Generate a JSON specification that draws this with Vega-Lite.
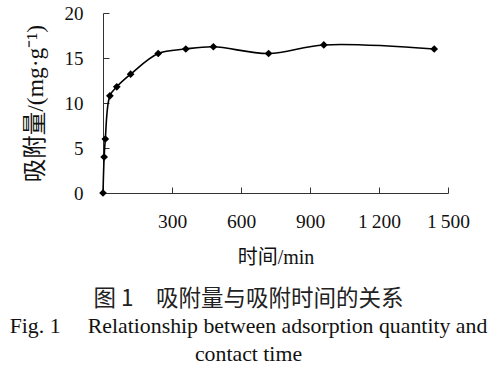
{
  "$schema": "https://vega.github.io/schema/vega-lite/v6.json",
  "width": 345,
  "height": 180,
  "autosize": "none",
  "padding": {"left": 103, "top": 13, "right": 52, "bottom": 176},
  "background": "white",
  "config": {"view": {"stroke": null}},
  "data": {"values": [
    {"t": 0, "q": 0},
    {"t": 5, "q": 4.0},
    {"t": 10, "q": 6.0},
    {"t": 30, "q": 10.8},
    {"t": 60, "q": 11.8},
    {"t": 120, "q": 13.2},
    {"t": 240, "q": 15.5},
    {"t": 360, "q": 16.0},
    {"t": 480, "q": 16.25},
    {"t": 720, "q": 15.5},
    {"t": 960, "q": 16.45},
    {"t": 1440, "q": 16.0}
  ]},
  "title": {
    "text": "图 1　吸附量与吸附时间的关系",
    "subtitle": ["Fig. 1\u00a0\u00a0\u00a0\u00a0\u00a0Relationship between adsorption quantity and", "contact time"],
    "orient": "bottom",
    "anchor": "middle",
    "dx": -27,
    "offset": 20,
    "font": "Noto Sans CJK SC",
    "fontSize": 22.5,
    "fontWeight": "normal",
    "color": "#222",
    "subtitleFont": "Liberation Serif",
    "subtitleFontSize": 21.8,
    "subtitleColor": "#111",
    "subtitlePadding": 6,
    "subtitleLineHeight": 28
  },
  "encoding": {
    "x": {"field": "t", "type": "quantitative",
      "scale": {"domain": [0, 1500], "nice": false},
      "axis": {"values": [300, 600, 900, 1200, 1500], "grid": false, "labelFlush": false, "labelOverlap": false,
        "tickSize": -6, "labelPadding": 25, "domainColor": "#333", "tickColor": "#333",
        "labelFont": "Liberation Serif", "labelFontSize": 19.5, "labelColor": "#111",
        "labelExpr": "datum.value >= 1000 ? '1\u2009' + substring(format(datum.value,'d'),1) : format(datum.value,'d')",
        "title": "时间/min", "titleFont": "Liberation Serif, Noto Sans CJK SC", "titleFontSize": 20,
        "titleFontWeight": "normal", "titleColor": "#111", "titlePadding": 17}},
    "y": {"field": "q", "type": "quantitative",
      "scale": {"domain": [0, 20], "nice": false},
      "axis": {"values": [0, 5, 10, 15, 20], "grid": false, "labelFlush": false,
        "tickSize": -6, "labelPadding": 26, "domainColor": "#333", "tickColor": "#333",
        "labelFont": "Liberation Serif", "labelFontSize": 19, "labelColor": "#111",
        "title": "吸附量/(mg·g⁻¹)", "titleFont": "Liberation Serif, Noto Sans CJK SC", "titleFontSize": 23.5,
        "titleFontWeight": "normal", "titleColor": "#111", "titlePadding": 17}}
  },
  "layer": [
    {"mark": {"type": "line", "interpolate": "catmull-rom", "color": "black", "strokeWidth": 1.6}},
    {"mark": {"type": "point", "shape": "diamond", "filled": true, "color": "black", "size": 60, "opacity": 1}}
  ]
}
